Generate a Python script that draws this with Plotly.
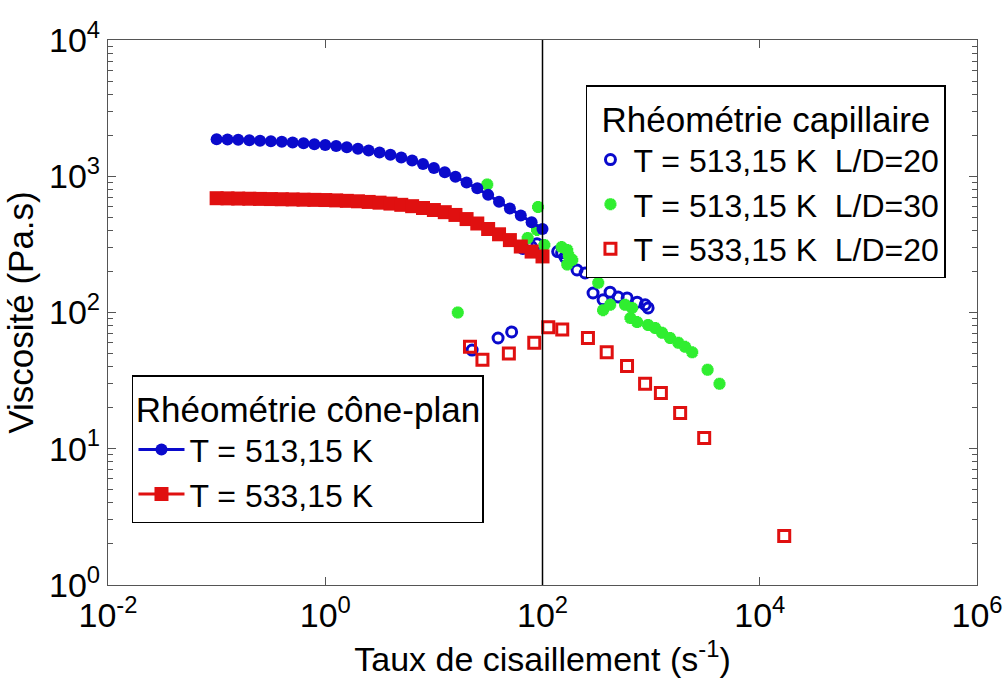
import plotly.graph_objects as go

# ---------------- data ----------------
# Cone-plan rheometry
cp_shear = [0.1, 0.126, 0.158, 0.2, 0.251, 0.316, 0.398, 0.501, 0.631, 0.794,
            1.0, 1.26, 1.58, 2.0, 2.51, 3.16, 3.98, 5.01, 6.31, 7.94,
            10.0, 12.6, 15.8, 20.0, 25.1, 31.6, 39.8, 50.1, 63.1, 79.4, 100.0]
cp_513 = [1870, 1860, 1850, 1840, 1825, 1810, 1790, 1770, 1745, 1720,
          1695, 1665, 1630, 1590, 1545, 1495, 1440, 1375, 1305, 1230,
          1150, 1070, 990, 900, 815, 730, 650, 580, 515, 460, 410]
cp_533 = [690, 688, 686, 684, 682, 680, 678, 676, 673, 671,
          669, 665, 660, 655, 648, 640, 630, 617, 603, 585,
          565, 545, 520, 485, 450, 410, 375, 340, 305, 280, 258]

# Capillary rheometry, T = 513.15 K, L/D = 20
cap1_shear = [22.5, 39, 52, 66, 79, 89, 138, 150, 161, 208, 247, 292, 361, 419,
              497, 601, 743, 881, 938]
cap1_visc = [53, 65, 72, 295, 305, 320, 280, 275, 255, 205, 195, 139, 124, 141,
             130, 128, 119, 114, 108]

# Capillary rheometry, T = 513.15 K, L/D = 30
cap2_shear = [16.6, 31, 73, 91, 89, 104, 150, 169, 175, 188, 169, 326, 361, 420,
              575, 668, 645, 743, 938, 1090, 1260, 1495, 1780, 2055, 2390,
              3310, 4260]
cap2_visc = [100, 870, 352, 595, 404, 313, 302, 288, 260, 243, 225, 165, 104, 114,
             114, 108, 91, 85, 81, 77, 71, 65, 60, 56, 51,
             38, 30]

# Capillary rheometry, T = 533.15 K, L/D = 20
cap3_shear = [21.5, 28, 49, 84, 113, 152, 262, 390, 600, 880, 1230, 1850, 3080, 16800]
cap3_visc = [56, 45, 50, 60, 78, 75, 65, 51, 40.5, 30, 25.7, 18.3, 12, 2.29]

x_tickvals = [1e-2, 1e0, 1e2, 1e4, 1e6]
x_ticktext = ["10<sup>-2</sup>", "10<sup>0</sup>", "10<sup>2</sup>", "10<sup>4</sup>", "10<sup>6</sup>"]
y_tickvals = [1e0, 1e1, 1e2, 1e3, 1e4]
y_ticktext = ["10<sup>0</sup>", "10<sup>1</sup>", "10<sup>2</sup>", "10<sup>3</sup>", "10<sup>4</sup>"]
y_minor = [m * 10 ** d for d in range(0, 4) for m in range(2, 10)]
v_line_x = 100

BLUE = "#0a0acc"
RED = "#e01010"
GREEN = "#30ee30"
FONT = "Liberation Sans, Arial, sans-serif"
NBSP = "\u00a0"

fig = go.Figure()

# capillary (legend 1)
fig.add_trace(go.Scatter(
    x=cap1_shear, y=cap1_visc, mode="markers",
    name="T = 513,15 K" + NBSP * 2 + "L/D=20",
    marker=dict(symbol="circle-open", size=10, color=BLUE, line=dict(width=3, color=BLUE)),
    legend="legend"))
fig.add_trace(go.Scatter(
    x=cap2_shear, y=cap2_visc, mode="markers",
    name="T = 513,15 K" + NBSP * 2 + "L/D=30",
    marker=dict(symbol="asterisk-open", size=10, color=GREEN, line=dict(width=4, color=GREEN)),
    legend="legend"))
fig.add_trace(go.Scatter(
    x=cap3_shear, y=cap3_visc, mode="markers",
    name="T = 533,15 K" + NBSP * 2 + "L/D=20",
    marker=dict(symbol="square-open", size=11, color=RED, line=dict(width=3, color=RED)),
    legend="legend"))

# cone-plan (legend 2)
fig.add_trace(go.Scatter(
    x=cp_shear, y=cp_513, mode="lines+markers", name="T = 513,15 K",
    line=dict(color=BLUE, width=3),
    marker=dict(symbol="circle", size=12, color=BLUE),
    legend="legend2"))
fig.add_trace(go.Scatter(
    x=cp_shear, y=cp_533, mode="lines+markers", name="T = 533,15 K",
    line=dict(color=RED, width=3),
    marker=dict(symbol="square", size=14, color=RED),
    legend="legend2"))

fig.add_shape(type="line", xref="x", yref="paper", x0=v_line_x, x1=v_line_x, y0=0, y1=1,
              line=dict(color="black", width=1.5))

axis_common = dict(showline=True, linecolor="#555555", linewidth=1.2, mirror="ticks",
                   ticks="inside", tickcolor="#555555", showgrid=False, zeroline=False,
                   tickfont=dict(family=FONT, size=34, color="black"))

fig.update_xaxes(type="log", range=[-2, 6], tickmode="array", tickvals=x_tickvals,
                 ticktext=x_ticktext, ticklen=8,
                 title=dict(text="Taux de cisaillement (s<sup>-1</sup>)",
                            font=dict(family=FONT, size=34, color="black"), standoff=14),
                 **axis_common)
fig.update_yaxes(type="log", range=[0, 4], tickmode="array", tickvals=y_tickvals,
                 ticktext=y_ticktext, ticklen=8,
                 minor=dict(tickmode="array", tickvals=y_minor, ticks="inside", ticklen=5,
                            tickcolor="#555555", showgrid=False),
                 title=dict(text="Viscosité (Pa.s)",
                            font=dict(family=FONT, size=35, color="black"), standoff=4),
                 **axis_common)

legend_common = dict(bgcolor="white", bordercolor="black", borderwidth=1.5,
                     font=dict(family=FONT, size=32, color="black"),
                     xanchor="left", yanchor="top", tracegroupgap=0)

fig.update_layout(
    width=1003, height=687,
    margin=dict(l=108, r=26, t=40, b=102, autoexpand=False),
    paper_bgcolor="white", plot_bgcolor="white",
    legend=dict(x=0.55, y=0.917, itemwidth=36,
                title=dict(text="Rhéométrie capillaire", side="top center",
                           font=dict(family=FONT, size=35, color="black")),
                **legend_common),
    legend2=dict(x=0.0276, y=0.385, itemwidth=46,
                 title=dict(text="Rhéométrie cône-plan", side="top center",
                            font=dict(family=FONT, size=35, color="black")),
                 **legend_common),
)

fig.write_html("out.html")
